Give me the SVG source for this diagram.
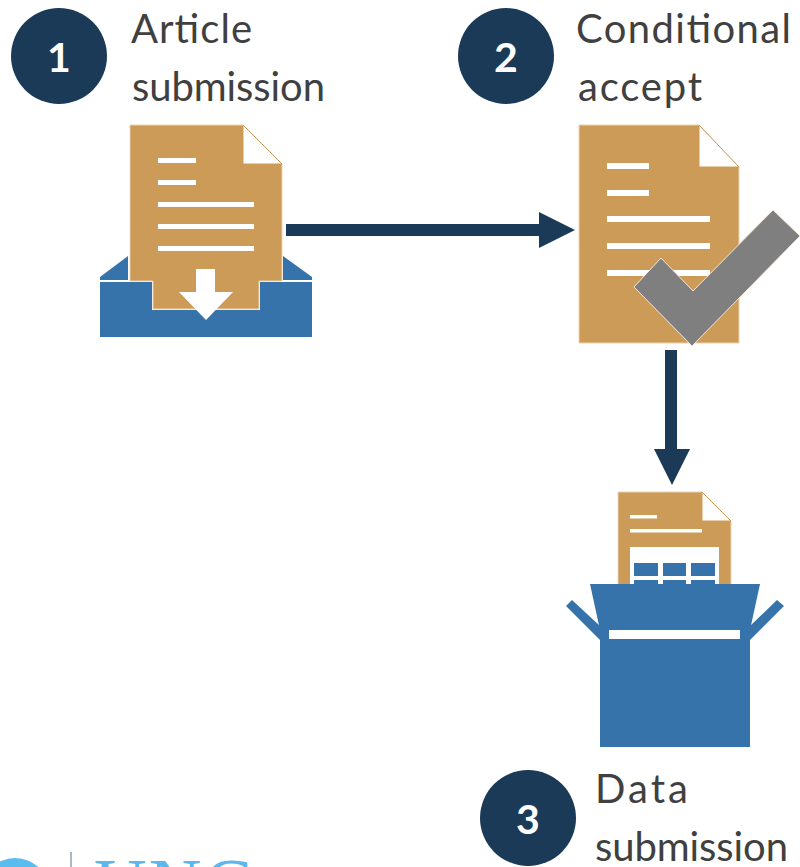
<svg xmlns="http://www.w3.org/2000/svg" width="800" height="867" viewBox="0 0 800 867">
<defs>
<style>
.lbl{font-family:"Lato","Liberation Sans",sans-serif;font-size:40px;fill:#404040}
.num{font-family:"Lato","Liberation Sans",sans-serif;font-size:41px;font-weight:700;fill:#fff;text-anchor:middle}
.badge{fill:#1a3a57}
.doc{fill:#cd9b58;stroke:#ead2b0;stroke-width:1}
.fold{fill:#fff;stroke:#cd9b58;stroke-width:1}
.wl{fill:#fff}
.blue{fill:#3673ab}
.conn{fill:#1a3a57}
</style>
</defs>
<g id="node-1">
<circle class="badge" cx="59" cy="56" r="48"/>
<text class="num" x="59" y="72">1</text>
<text class="lbl" x="131" y="43" textLength="121">Article</text>
<text class="lbl" x="132" y="101" textLength="193">submission</text>
<path class="blue" d="M100 277V280H128V256Z"/>
<path class="blue" d="M312 277V280H283V256Z"/>
<path class="blue" d="M100 282H152V310H260V282H312V337H100Z"/>
<path class="doc" d="M130 125H243L282 164V281H259V309H153V281H130Z"/>
<path class="fold" d="M243 125V164H282Z"/>
<rect class="wl" x="158" y="158" width="38" height="5"/>
<rect class="wl" x="158" y="180" width="38" height="5"/>
<rect class="wl" x="158" y="202" width="96" height="5"/>
<rect class="wl" x="158" y="224" width="96" height="5"/>
<rect class="wl" x="158" y="246" width="96" height="5"/>
<path class="wl" d="M196 269H215V292H233L206 320L179 292H196Z"/>
</g>
<g id="node-2">
<circle class="badge" cx="506" cy="56" r="48"/>
<text class="num" x="506" y="72">2</text>
<text class="lbl" x="576" y="43" textLength="215">Conditional</text>
<text class="lbl" x="578" y="101" textLength="124">accept</text>
<path class="doc" d="M579 125H699L739 167V343H579Z"/>
<path class="fold" d="M699 125V167H739Z"/>
<rect class="wl" x="607" y="163" width="42" height="6"/>
<rect class="wl" x="607" y="190" width="42" height="6"/>
<rect class="wl" x="607" y="216" width="103" height="6"/>
<rect class="wl" x="607" y="243" width="103" height="6"/>
<rect class="wl" x="607" y="270" width="103" height="6"/>
<path d="M773 210L800 236L692 346L634 287L661 258L693 291Z" fill="#7f7f7f" stroke="#f2e6d6" stroke-width="1"/>
</g>
<g id="node-3">
<circle class="badge" cx="528" cy="818" r="48"/>
<text class="num" x="528" y="834">3</text>
<text class="lbl" x="595" y="803" textLength="93">Data</text>
<text class="lbl" x="595" y="861" textLength="193">submission</text>
<path class="doc" d="M618 492H702L731 521V585H618Z"/>
<path class="fold" d="M702 492V521H731Z"/>
<rect class="wl" x="630" y="515" width="27" height="3.5"/>
<rect class="wl" x="630" y="529" width="72" height="3.5"/>
<rect class="wl" x="630" y="547" width="89" height="38"/>
<rect class="blue" x="634" y="563" width="24" height="13"/>
<rect class="blue" x="663" y="563" width="23" height="13"/>
<rect class="blue" x="691" y="563" width="24" height="13"/>
<rect class="blue" x="634" y="580" width="24" height="5"/>
<rect class="blue" x="663" y="580" width="23" height="5"/>
<rect class="blue" x="691" y="580" width="24" height="5"/>
<path class="blue" d="M566 606L572 600L600 626V640Z"/>
<path class="blue" d="M784 606L777 600L750 626V640Z"/>
<path class="blue" d="M590 584H760L750 630V747H600V630Z"/>
<rect class="wl" x="609" y="630" width="131" height="9"/>
</g>
<g id="logo">
<circle cx="15" cy="893" r="35" fill="#5bbcf0"/>
<rect x="70" y="852" width="2" height="15" fill="#a9b8c4"/>
<text x="94" y="910" font-family="Liberation Serif,serif" font-size="73" fill="#5bb8ee" letter-spacing="2">UNC</text>
</g>
<g id="connectors">
<path class="conn" d="M286 224H539V212L575 230L539 248V236H286Z"/>
<path class="conn" d="M665 350H677V449H690L672 485L654 449H665Z"/>
</g>
</svg>
